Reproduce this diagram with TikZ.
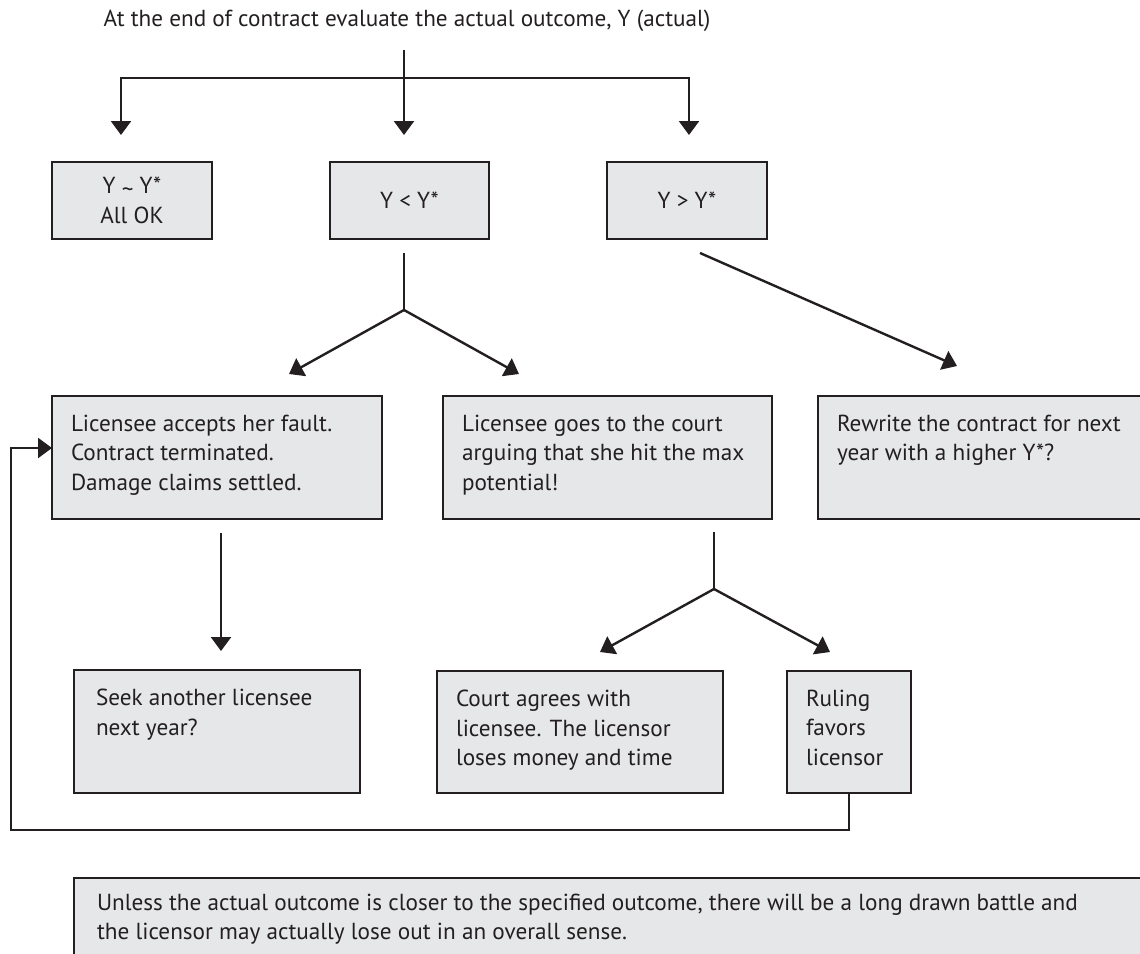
\documentclass[tikz,border=0pt]{standalone}
\usepackage{fontspec}
\setmainfont{PT Sans}
\usetikzlibrary{arrows.meta,calc}
\definecolor{ink}{HTML}{231F20}
\definecolor{panelfill}{HTML}{E6E7E8}
% top-aligned, left-aligned text block of fixed size: width, height, top pad, left pad, text
\newcommand\padtext[5]{\parbox[c][#2][t]{#1}{\vspace*{#3}\leftskip=#4\relax\rightskip=0pt plus 1fil\relax\noindent #5\par}}
% centred text block of fixed size: width, height, text
\newcommand\midtext[3]{\parbox[c][#2][c]{#1}{\centering #3\par}}
\newcommand\approxsign{\raisebox{-0.3ex}{\char"007E}}
\tikzset{
  bodyfont/.style={font=\fontsize{23.2}{29.5}\selectfont},
  panel/.style={draw=ink, fill=panelfill, line width=2.5pt, inner sep=0pt, outer sep=0pt,
                anchor=north west, text=ink, bodyfont},
  link/.style={draw=ink, line width=2.4pt, line join=miter},
  arrowlink/.style={link, -{Triangle[length=14pt,width=20pt]}},
}
\begin{document}
\begin{tikzpicture}[x=1pt,y=-1pt]
\useasboundingbox (0,0) rectangle (1140,953);

% heading
\node[anchor=base, text=ink, bodyfont, inner sep=0pt] (head) at (407,27)
  {At the end of contract evaluate the actual outcome, Y (actual)};

% first level outcomes
\node[panel] (ok) at (52,162) {\midtext{160pt}{77pt}{Y \approxsign{} Y*\\All OK}};
\node[panel] (lt) at (330,162) {\midtext{159pt}{77pt}{Y < Y*}};
\node[panel] (gt) at (607,162) {\midtext{160pt}{77pt}{Y > Y*}};

% second level
\node[panel] (acc) at (52,396) {\padtext{330pt}{123pt}{19pt}{19pt}{Licensee accepts her fault.\\Contract terminated.\\Damage claims settled.}};
\node[panel] (goes) at (443,396) {\padtext{329pt}{123pt}{19pt}{19pt}{Licensee goes to the court\\arguing that she hit the max\\potential!}};
\node[panel] (rw) at (818,396) {\padtext{330pt}{123pt}{19pt}{19pt}{Rewrite the contract for next\\year with a higher Y*?}};

% third level
\node[panel] (seek) at (74,670) {\padtext{286pt}{123pt}{19pt}{22pt}{Seek another licensee\\next year?}};
\node[panel] (court) at (437,671) {\padtext{286pt}{122pt}{19pt}{19pt}{Court agrees with\\licensee. The licensor\\loses money and time}};
\node[panel] (rul) at (787,671) {\padtext{124pt}{122pt}{19pt}{19pt}{Ruling\\favors\\licensor}};

% closing remark
\node[panel] (note) at (74,878) {\padtext{1090pt}{100pt}{16pt}{23pt}{Unless the actual outcome is closer to the specified outcome, there will be a long drawn battle and\\the licensor may actually lose out in an overall sense.}};

% split below the heading
\coordinate (headout) at (404,50);
\coordinate (split) at (404,78);
\coordinate (toOk) at (121,135);
\coordinate (toLt) at (404,135);
\coordinate (toGt) at (689,135);
\draw[link] (headout) -- (split);
\draw[arrowlink] (split) -| (toOk);
\draw[arrowlink] (split) -- (toLt);
\draw[arrowlink] (split) -| (toGt);

% Y < Y* fork
\coordinate (ltout) at (404,253);
\coordinate (ltfork) at (404,310);
\coordinate (toAcc) at (289,374);
\coordinate (toGoes) at (519,374);
\draw[link] (ltout) -- (ltfork);
\draw[arrowlink] (ltfork) -- (toAcc);
\draw[arrowlink] (ltfork) -- (toGoes);

% Y > Y*
\coordinate (gtout) at (700,253);
\coordinate (toRw) at (957,366);
\draw[arrowlink] (gtout) -- (toRw);

% accepted fault
\coordinate (accout) at (221,533);
\coordinate (toSeek) at (221,651);
\draw[arrowlink] (accout) -- (toSeek);

% court fork
\coordinate (goesout) at (714,532);
\coordinate (goesfork) at (714,589);
\coordinate (toCourt) at (600,652);
\coordinate (toRul) at (830,652);
\draw[link] (goesout) -- (goesfork);
\draw[arrowlink] (goesfork) -- (toCourt);
\draw[arrowlink] (goesfork) -- (toRul);

% ruling for the licensor loops back
\coordinate (loopB) at (11,830);
\coordinate (loopT) at (11,448);
\draw[arrowlink] (rul.south) |- (loopB) -- (loopT) -- (acc.west |- loopT);
\end{tikzpicture}
\end{document}
